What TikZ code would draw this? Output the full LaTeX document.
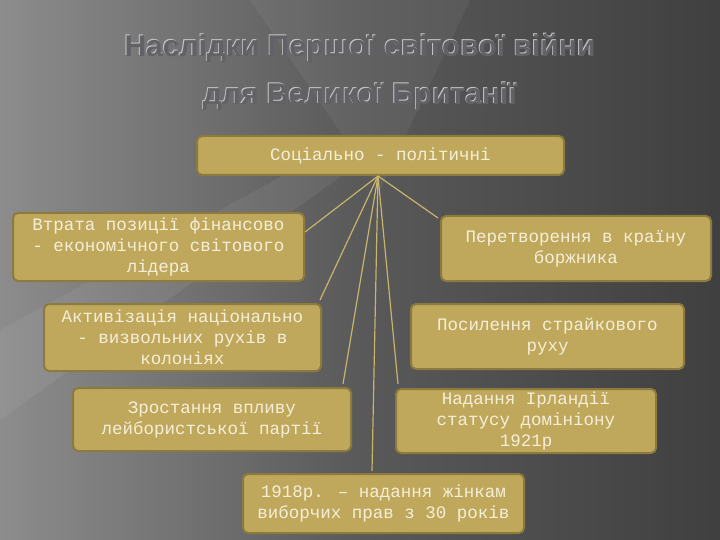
\documentclass[tikz,border=0pt]{standalone}
\usepackage{fontspec}
\setmainfont{Liberation Sans}
\newfontfamily\monof{Liberation Mono}
\definecolor{boxfill}{HTML}{BFA75C}
\definecolor{boxline}{HTML}{8C7A3E}
\definecolor{boxtext}{HTML}{F5EFD8}
\definecolor{titlec}{HTML}{626266}
\definecolor{linec}{HTML}{C8B46A}
\tikzset{
  box/.style={draw=boxline, line width=2pt, fill=boxfill, rounded corners=5pt, text=boxtext, align=center, font=\monof\fontsize{17.5}{21}\selectfont, inner sep=0pt, anchor=north west},
  conn/.style={draw=linec, line width=1.2pt},
  ttl/.style={font=\bfseries\fontsize{30}{34}\selectfont}
}
\begin{document}
\begin{tikzpicture}[x=1pt,y=-1pt]
\useasboundingbox (0,0) rectangle (720,540);
\shade[left color=black!45, right color=black!75, middle color=black!65] (0,0) rectangle (720,540);
\fill[white, opacity=0.06] (0,330) -- (330,150) -- (350,170) -- (0,420) -- cycle;
\fill[white, opacity=0.05] (250,0) -- (470,0) -- (380,190) -- cycle;
\foreach \dx/\dy/\c in {-0.9/-0.9/black!22, 0/0/titlec}{
  \node[ttl, text=\c] (t1\dx) at (360+\dx,48+\dy) {Наслідки Першої світової війни};
  \node[ttl, text=\c] (t2\dx) at (360+\dx,97+\dy) {для Великої Британії};
}
\node[box, minimum width=367, minimum height=39] (top) at (196,135) {Соціально - політичні};
\node[box, minimum width=291, minimum height=68] (b1) at (12,212) {Втрата позиції фінансово\\- економічного світового\\лідера};
\node[box, minimum width=270, minimum height=65] (b2) at (440,215) {Перетворення в країну\\боржника};
\node[box, minimum width=277, minimum height=67] (b3) at (43,303) {Активізація національно\\- визвольних рухів в\\колоніях};
\node[box, minimum width=273, minimum height=65] (b4) at (410,303) {Посилення страйкового\\руху};
\node[box, minimum width=278, minimum height=63] (b5) at (72,387) {Зростання впливу\\лейбористської партії};
\node[box, minimum width=260, minimum height=64] (b6) at (395,388) {Надання Ірландії\\статусу домініону\\1921р};
\node[box, minimum width=281, minimum height=59] (b7) at (242,473) {1918р. – надання жінкам\\виборчих прав з 30 років};
\coordinate (hub) at (378,176);
\coordinate (e1) at (305,232);
\coordinate (e2) at (438,218);
\coordinate (e3) at (320,300);
\coordinate (e5) at (343,384);
\coordinate (e6) at (398,384);
\coordinate (e7) at (372,471);
\foreach \e in {e1,e2,e3,e5,e6,e7}{\draw[conn] (hub) -- (\e);}
\end{tikzpicture}
\end{document}
